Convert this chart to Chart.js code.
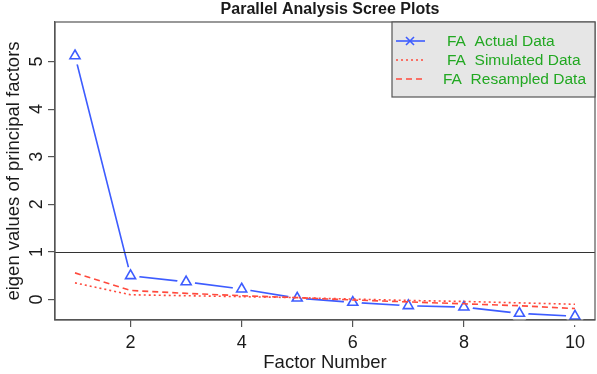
<!DOCTYPE html>
<html>
<head>
<meta charset="utf-8">
<script src="https://cdn.jsdelivr.net/npm/chart.js@4.4.1/dist/chart.umd.min.js"></script>
<style>
html,body{margin:0;padding:0;background:#fff;}
#wrap{width:597px;height:374px;}
</style>
</head>
<body>
<div id="wrap"><canvas id="c" width="597" height="374"></canvas></div>
<script>
const chartTitle = 'Parallel Analysis Scree Plots';
const xTitle = 'Factor Number';
const yTitle = 'eigen values of principal factors';
const categories = [1, 2, 3, 4, 5, 6, 7, 8, 9, 10];
const actualData = [5.12, 0.50, 0.37, 0.22, 0.03, -0.06, -0.13, -0.16, -0.29, -0.35];
const simulatedData = [0.35, 0.10, 0.08, 0.06, 0.04, 0.01, -0.02, -0.04, -0.07, -0.10];
const resampledData = [0.56, 0.19, 0.13, 0.08, 0.04, -0.01, -0.05, -0.09, -0.13, -0.19];
const xTicks = [2, 4, 6, 8, 10];
const yTicks = [0, 1, 2, 3, 4, 5];
const refLine = 1;
const legendLabels = ['FA  Actual Data', 'FA  Simulated Data', 'FA  Resampled Data'];

const BLUE = '#3d5cff';
const RED = '#ff4a3d';
const GREEN = '#22a822';
const AXIS = '#555555';
const TEXT = '#1a1a1a';
const FONT = '"Liberation Sans", Arial, sans-serif';

const pts = arr => categories.map((c, i) => ({x: c, y: arr[i]}));

const extras = {
  id: 'extras',
  afterDatasetsDraw(chart) {
    const {ctx, chartArea: a, scales: {x, y}} = chart;
    ctx.save();
    const yr = Math.round(y.getPixelForValue(refLine)) + 0.5;
    ctx.strokeStyle = '#333';
    ctx.lineWidth = 1;
    ctx.beginPath(); ctx.moveTo(a.left, yr); ctx.lineTo(a.right, yr); ctx.stroke();
    ctx.strokeStyle = AXIS;
    ctx.lineWidth = 1.2;
    ctx.strokeRect(a.left, a.top, a.right - a.left, a.bottom - a.top);
    ctx.restore();
  },
  afterDraw(chart) {
    const {ctx, chartArea: a, scales: {y}} = chart;
    ctx.save();
    ctx.fillStyle = TEXT;
    ctx.font = 'bold 16px ' + FONT;
    ctx.textAlign = 'center';
    ctx.textBaseline = 'middle';
    ctx.fillText(chartTitle, 330, 10);
    ctx.font = '18px ' + FONT;
    yTicks.forEach(v => {
      const py = y.getPixelForValue(v);
      ctx.save();
      ctx.translate(36, py);
      ctx.rotate(-Math.PI / 2);
      ctx.textAlign = 'center';
      ctx.textBaseline = 'middle';
      ctx.fillText(String(v), 0, 1);
      ctx.restore();
    });
    const lx = 392, ly = a.top, lw = a.right - 392, lh = 75;
    ctx.fillStyle = '#e6e6e6';
    ctx.fillRect(lx, ly, lw, lh);
    ctx.strokeStyle = AXIS;
    ctx.lineWidth = 1.2;
    ctx.strokeRect(lx, ly, lw, lh);
    const rows = [ly + 19, ly + 38, ly + 57];
    const styles = [
      {c: BLUE, d: [], w: 1.6},
      {c: RED, d: [2, 3], w: 1.6},
      {c: RED, d: [6, 4], w: 1.6}
    ];
    const textX = [447, 447, 443];
    rows.forEach((ry, i) => {
      const s = styles[i];
      ctx.strokeStyle = s.c;
      ctx.lineWidth = s.w;
      ctx.setLineDash(s.d);
      ctx.beginPath(); ctx.moveTo(396, ry); ctx.lineTo(425, ry); ctx.stroke();
      ctx.setLineDash([]);
      if (i === 0) {
        ctx.beginPath();
        ctx.moveTo(406, ry - 4); ctx.lineTo(414, ry + 4);
        ctx.moveTo(414, ry - 4); ctx.lineTo(406, ry + 4);
        ctx.stroke();
      }
      ctx.fillStyle = GREEN;
      ctx.font = '15.5px ' + FONT;
      ctx.textAlign = 'left';
      ctx.textBaseline = 'middle';
      ctx.fillText(legendLabels[i], textX[i], ry + 1);
    });
    ctx.restore();
  }
};

new Chart(document.getElementById('c'), {
  type: 'line',
  data: {
    datasets: [
      {
        label: 'actual-line', data: pts(actualData), borderColor: BLUE, borderWidth: 1.6,
        pointRadius: 0, fill: false, tension: 0, order: 5
      },
      {
        label: 'gap', data: pts(actualData), showLine: false, pointStyle: 'circle',
        pointRadius: 9, pointBorderWidth: 0, pointBackgroundColor: '#ffffff', pointBorderColor: '#ffffff',
        clip: false, order: 4
      },
      {
        label: legendLabels[0], data: pts(actualData), showLine: false, pointStyle: 'triangle',
        pointRadius: 5.8, pointBorderWidth: 1.6, pointBackgroundColor: 'rgba(255,255,255,0)', pointBorderColor: BLUE,
        clip: false, order: 3
      },
      {
        label: legendLabels[1], data: pts(simulatedData), borderColor: RED, borderWidth: 1.6,
        borderDash: [2, 3], pointRadius: 0, fill: false, tension: 0, order: 2
      },
      {
        label: legendLabels[2], data: pts(resampledData), borderColor: RED, borderWidth: 1.6,
        borderDash: [6, 4], pointRadius: 0, fill: false, tension: 0, order: 1
      }
    ]
  },
  options: {
    responsive: false,
    animation: false,
    devicePixelRatio: 1,
    layout: {autoPadding: false, padding: {top: 22, right: 2, left: 0, bottom: 0}},
    plugins: {legend: {display: false}, tooltip: {enabled: false}, title: {display: false}},
    scales: {
      x: {
        type: 'linear', min: 0.64, max: 10.36,
        afterBuildTicks: s => { s.ticks = xTicks.map(v => ({value: v})); },
        afterFit: s => { s.height = 54; s.paddingLeft = 0; s.paddingRight = 0; },
        grid: {drawOnChartArea: false, drawTicks: true, tickLength: 7, color: AXIS, lineWidth: 1.2},
        border: {display: true, color: AXIS, width: 1.2},
        ticks: {color: TEXT, font: {family: FONT, size: 18}, padding: 5, maxRotation: 0, autoSkip: false},
        title: {display: true, text: xTitle, color: TEXT, font: {family: FONT, size: 18.5}, padding: {top: 0, bottom: 0}}
      },
      y: {
        type: 'linear', min: -0.43, max: 5.83,
        afterBuildTicks: s => { s.ticks = yTicks.map(v => ({value: v})); },
        afterFit: s => { s.width = 55; s.paddingTop = 0; s.paddingBottom = 0; },
        grid: {drawOnChartArea: false, drawTicks: true, tickLength: 7, color: AXIS, lineWidth: 1.2},
        border: {display: true, color: AXIS, width: 1.2},
        ticks: {display: false},
        title: {display: true, text: yTitle, color: TEXT, font: {family: FONT, size: 18.5}, padding: {top: 3, bottom: 0}}
      }
    }
  },
  plugins: [extras]
});
</script>
</body>
</html>
